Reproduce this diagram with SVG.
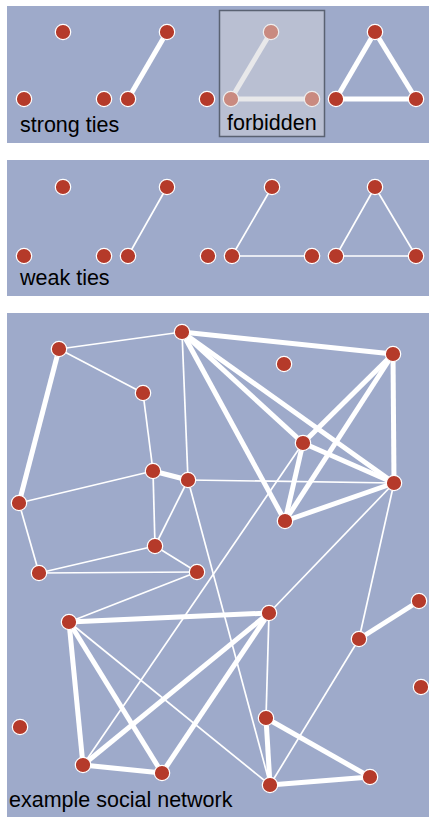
<svg xmlns="http://www.w3.org/2000/svg" width="429" height="817" viewBox="0 0 429 817">
<style>
.bg{fill:#9eaaca}
.n{fill:#b53a2a;stroke:#fff;stroke-width:1.2}
.nf{fill:#c98a80;stroke:#eee;stroke-width:1.2}
.s{stroke:#fff;stroke-width:5;fill:none}
.sf{stroke:#e8e8ea;stroke-width:5;fill:none}
.w{stroke:#fff;stroke-width:1.7;fill:none}
.t{font-family:"Liberation Sans",Arial,sans-serif;font-size:21.5px;fill:#000}
</style>
<rect width="429" height="817" fill="#fff"/>
<rect class="bg" x="7" y="6" width="422" height="137"/>
<rect class="bg" x="7" y="160" width="422" height="136"/>
<rect class="bg" x="7" y="313" width="422" height="504"/>

<g id="connectors">
  <!-- strong ties panel -->
  <line class="s" x1="128" y1="99" x2="167" y2="32"/>
  <rect x="219.5" y="10.5" width="105" height="126" fill="#b9bfd2" stroke="#5a6272" stroke-width="1.5"/>
  <line class="sf" x1="231" y1="99" x2="271" y2="32"/>
  <line class="sf" x1="231" y1="99" x2="312" y2="99"/>
  <line class="s" x1="336" y1="99" x2="375" y2="32"/>
  <line class="s" x1="336" y1="99" x2="416" y2="99"/>
  <line class="s" x1="375" y1="32" x2="416" y2="99"/>
  <!-- weak ties panel -->
  <line class="w" x1="128" y1="256" x2="167" y2="187"/>
  <line class="w" x1="232" y1="256" x2="272" y2="187"/>
  <line class="w" x1="232" y1="256" x2="312" y2="256"/>
  <line class="w" x1="336" y1="256" x2="375" y2="187"/>
  <line class="w" x1="336" y1="256" x2="416" y2="256"/>
  <line class="w" x1="375" y1="187" x2="416" y2="256"/>
  <!-- network thin -->
  <line class="w" x1="59" y1="349" x2="182" y2="332"/>
  <line class="w" x1="59" y1="349" x2="143" y2="393"/>
  <line class="w" x1="143" y1="393" x2="153" y2="471"/>
  <line class="w" x1="153" y1="471" x2="19" y2="503"/>
  <line class="w" x1="153" y1="471" x2="155" y2="546"/>
  <line class="w" x1="19" y1="503" x2="39" y2="573"/>
  <line class="w" x1="39" y1="573" x2="155" y2="546"/>
  <line class="w" x1="39" y1="573" x2="197" y2="572"/>
  <line class="w" x1="155" y1="546" x2="197" y2="572"/>
  <line class="w" x1="155" y1="546" x2="188" y2="480"/>
  <line class="w" x1="188" y1="480" x2="182" y2="332"/>
  <line class="w" x1="188" y1="480" x2="394" y2="483"/>
  <line class="w" x1="188" y1="480" x2="270" y2="785"/>
  <line class="w" x1="303" y1="443" x2="83" y2="765"/>
  <line class="w" x1="69" y1="622" x2="197" y2="572"/>
  <line class="w" x1="69" y1="622" x2="270" y2="785"/>
  <line class="w" x1="269" y1="613" x2="266" y2="718"/>
  <line class="w" x1="269" y1="613" x2="394" y2="483"/>
  <line class="w" x1="359" y1="639" x2="394" y2="483"/>
  <line class="w" x1="359" y1="639" x2="270" y2="785"/>
  <!-- network thick -->
  <line class="s" x1="59" y1="349" x2="19" y2="503"/>
  <line class="s" x1="153" y1="471" x2="188" y2="480"/>
  <line class="s" x1="182" y1="332" x2="393" y2="354"/>
  <line class="s" x1="182" y1="332" x2="303" y2="443"/>
  <line class="s" x1="182" y1="332" x2="394" y2="483"/>
  <line class="s" x1="182" y1="332" x2="285" y2="521"/>
  <line class="s" x1="393" y1="354" x2="394" y2="483"/>
  <line class="s" x1="393" y1="354" x2="303" y2="443"/>
  <line class="s" x1="393" y1="354" x2="285" y2="521"/>
  <line class="s" x1="303" y1="443" x2="394" y2="483"/>
  <line class="s" x1="303" y1="443" x2="285" y2="521"/>
  <line class="s" x1="394" y1="483" x2="285" y2="521"/>
  <line class="s" x1="69" y1="622" x2="269" y2="613"/>
  <line class="s" x1="69" y1="622" x2="83" y2="765"/>
  <line class="s" x1="69" y1="622" x2="162" y2="773"/>
  <line class="s" x1="83" y1="765" x2="162" y2="773"/>
  <line class="s" x1="83" y1="765" x2="269" y2="613"/>
  <line class="s" x1="162" y1="773" x2="269" y2="613"/>
  <line class="s" x1="266" y1="718" x2="270" y2="785"/>
  <line class="s" x1="266" y1="718" x2="370" y2="777"/>
  <line class="s" x1="270" y1="785" x2="370" y2="777"/>
  <line class="s" x1="359" y1="639" x2="419" y2="601"/>
</g>

<g id="strong-ties">
  <circle class="n" cx="63" cy="32" r="7.7"/>
  <circle class="n" cx="24" cy="99" r="7.7"/>
  <circle class="n" cx="104" cy="99" r="7.7"/>
  <circle class="n" cx="128" cy="99" r="7.7"/>
  <circle class="n" cx="167" cy="32" r="7.7"/>
  <circle class="n" cx="207" cy="99" r="7.7"/>
  <circle class="nf" cx="271" cy="32" r="7.7"/>
  <circle class="nf" cx="231" cy="99" r="7.7"/>
  <circle class="nf" cx="312" cy="99" r="7.7"/>
  <circle class="n" cx="375" cy="32" r="7.7"/>
  <circle class="n" cx="336" cy="99" r="7.7"/>
  <circle class="n" cx="416" cy="99" r="7.7"/>
  <text class="t" x="20" y="132">strong ties</text>
  <text class="t" x="227" y="129.5">forbidden</text>
</g>

<g id="weak-ties">
  <circle class="n" cx="63" cy="187" r="7.7"/>
  <circle class="n" cx="24" cy="256" r="7.7"/>
  <circle class="n" cx="104" cy="256" r="7.7"/>
  <circle class="n" cx="128" cy="256" r="7.7"/>
  <circle class="n" cx="167" cy="187" r="7.7"/>
  <circle class="n" cx="208" cy="256" r="7.7"/>
  <circle class="n" cx="232" cy="256" r="7.7"/>
  <circle class="n" cx="272" cy="187" r="7.7"/>
  <circle class="n" cx="312" cy="256" r="7.7"/>
  <circle class="n" cx="336" cy="256" r="7.7"/>
  <circle class="n" cx="375" cy="187" r="7.7"/>
  <circle class="n" cx="416" cy="256" r="7.7"/>
  <text class="t" x="20" y="285">weak ties</text>
</g>

<g id="network">
  <circle id="nA" class="n" cx="59" cy="349" r="7.7"/>
  <circle id="nB" class="n" cx="182" cy="332" r="7.7"/>
  <circle id="nC" class="n" cx="143" cy="393" r="7.7"/>
  <circle id="nD" class="n" cx="153" cy="471" r="7.7"/>
  <circle id="nE" class="n" cx="188" cy="480" r="7.7"/>
  <circle id="nF" class="n" cx="19" cy="503" r="7.7"/>
  <circle id="nG" class="n" cx="155" cy="546" r="7.7"/>
  <circle id="nH" class="n" cx="39" cy="573" r="7.7"/>
  <circle id="nI" class="n" cx="197" cy="572" r="7.7"/>
  <circle id="nJ" class="n" cx="284" cy="364" r="7.7"/>
  <circle id="nK" class="n" cx="393" cy="354" r="7.7"/>
  <circle id="nL" class="n" cx="303" cy="443" r="7.7"/>
  <circle id="nM" class="n" cx="394" cy="483" r="7.7"/>
  <circle id="nN" class="n" cx="285" cy="521" r="7.7"/>
  <circle id="nO" class="n" cx="69" cy="622" r="7.7"/>
  <circle id="nP" class="n" cx="20" cy="727" r="7.7"/>
  <circle id="nQ" class="n" cx="83" cy="765" r="7.7"/>
  <circle id="nR" class="n" cx="162" cy="773" r="7.7"/>
  <circle id="nS" class="n" cx="269" cy="613" r="7.7"/>
  <circle id="nT" class="n" cx="419" cy="601" r="7.7"/>
  <circle id="nU" class="n" cx="359" cy="639" r="7.7"/>
  <circle id="nV" class="n" cx="421" cy="687" r="7.7"/>
  <circle id="nW" class="n" cx="266" cy="718" r="7.7"/>
  <circle id="nX" class="n" cx="270" cy="785" r="7.7"/>
  <circle id="nY" class="n" cx="370" cy="777" r="7.7"/>
  <text class="t" x="9" y="807">example social network</text>
</g>
</svg>
